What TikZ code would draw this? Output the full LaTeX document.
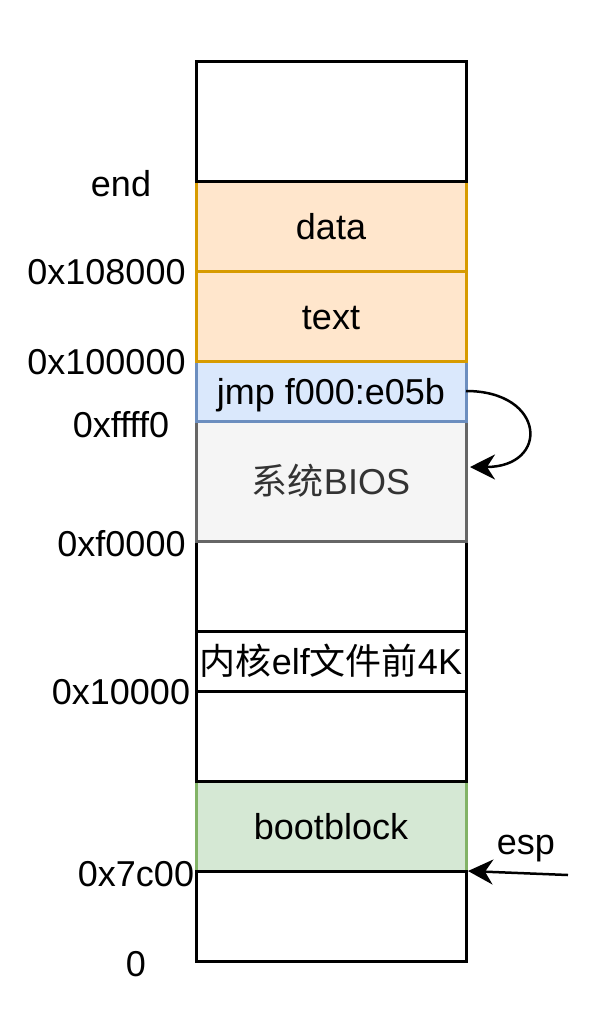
\documentclass[tikz,border=0pt]{standalone}
\usepackage{fontspec}
\setmainfont{Liberation Sans}
\newfontfamily\cjk{Noto Sans CJK SC}
\usetikzlibrary{positioning,arrows.meta}

\definecolor{segfill}{HTML}{FFE6CC}
\definecolor{segline}{HTML}{D79B00}
\definecolor{jmpfill}{HTML}{DAE8FC}
\definecolor{jmpline}{HTML}{6C8EBF}
\definecolor{biosfill}{HTML}{F5F5F5}
\definecolor{biosline}{HTML}{666666}
\definecolor{biostext}{HTML}{333333}
\definecolor{bootfill}{HTML}{D5E8D4}
\definecolor{bootline}{HTML}{82B366}

\begin{document}
\begin{tikzpicture}[x=1pt,y=-1pt,
	every node/.style={font=\fontsize{36}{43}\selectfont,text height=34pt,text depth=7.5pt,inner sep=0pt,outer sep=0pt},
	mem/.style={draw,line width=3pt,minimum width=270pt,fill=white},
	seg/.style={mem,fill=segfill,draw=segline},
	arr/.style={line width=2.5pt,-{Stealth[length=25pt,width=25pt,inset=8pt]}}]
	\useasboundingbox (0,0) rectangle (606,1023);

	\node[mem,fill=bootfill,draw=bootline,minimum height=90pt] (bootblock) at (331,826) {bootblock};
	\node[mem,minimum height=90pt] (low) [below=0pt of bootblock] {};
	\node[mem,minimum height=90pt] (gap1) [above=0pt of bootblock] {};
	\node[mem,minimum height=60pt] (elf) [above=0pt of gap1] {{\cjk 内核}elf{\cjk 文件前}4K};
	\node[mem,minimum height=90pt] (gap2) [above=0pt of elf] {};
	\node[mem,fill=biosfill,draw=biosline,text=biostext,minimum height=120pt] (bios) [above=0pt of gap2] {{\cjk 系统}BIOS};
	\node[mem,fill=jmpfill,draw=jmpline,minimum height=60pt] (jmp) [above=0pt of bios] {jmp f000:e05b};
	\node[seg,minimum height=90pt] (text) [above=0pt of jmp] {text};
	\node[seg,minimum height=90pt] (data) [above=0pt of text] {data};
	\node[mem,minimum height=120pt] (top) [above=0pt of data] {};

	\node (a_end) at (121,183) {end};
	\node (a_108000) at (106.5,271) {0x108000};
	\node (a_100000) at (106.5,361) {0x100000};
	\node (a_ffff0) at (121,424) {0xffff0};
	\node (a_f0000) at (121.5,543) {0xf0000};
	\node (a_10000) at (121,691) {0x10000};
	\node (a_7c00) at (136,873) {0x7c00};
	\node (a_0) at (136,963) {0};

	\draw[arr] (jmp.east) .. controls +(80,0) and +(80,0) .. ([xshift=4pt,yshift=14pt]bios.east);

	\coordinate (espstart) at (568,875);
	\node (esp) at (526,841) {esp};
	\draw[arr] (espstart) -- ([xshift=2pt]bootblock.south east);
\end{tikzpicture}
\end{document}
